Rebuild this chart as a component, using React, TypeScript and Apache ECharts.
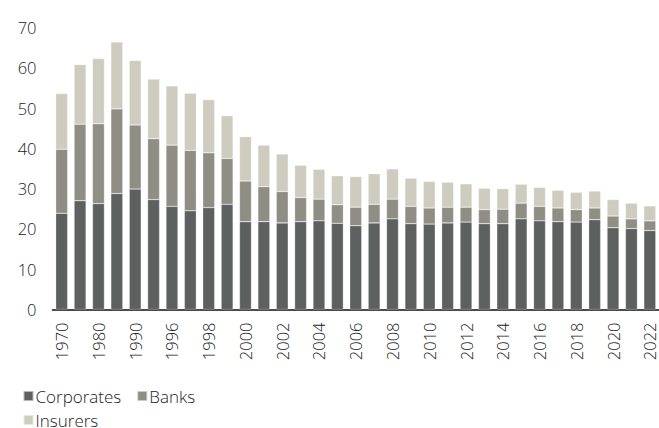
import React, { useEffect, useRef } from "react";
import * as echarts from "echarts";

const years = [
  "1970", "1975", "1980", "1985", "1990", "1995", "1996", "1997", "1998", "1999",
  "2000", "2001", "2002", "2003", "2004", "2005", "2006", "2007", "2008", "2009",
  "2010", "2011", "2012", "2013", "2014", "2015", "2016", "2017", "2018", "2019",
  "2020", "2021", "2022",
];

const corporates = [
  23.9, 27.0, 26.3, 28.8, 29.9, 27.3, 25.6, 24.5, 25.3, 26.1,
  21.8, 21.8, 21.5, 21.8, 22.0, 21.4, 20.8, 21.5, 22.5, 21.3,
  21.2, 21.5, 21.7, 21.3, 21.3, 22.5, 22.0, 21.8, 21.7, 22.3,
  20.3, 20.1, 19.6,
];

const banks = [
  15.9, 19.0, 19.8, 21.0, 15.9, 15.1, 15.2, 15.0, 13.6, 11.4,
  10.1, 8.7, 7.8, 6.0, 5.4, 4.6, 4.6, 4.6, 4.9, 4.3,
  4.0, 3.9, 3.7, 3.5, 3.6, 3.9, 3.6, 3.4, 3.1, 2.9,
  2.9, 2.4, 2.4,
];

const insurers = [
  13.8, 14.8, 16.2, 16.6, 16.0, 14.8, 14.7, 14.2, 13.2, 10.6,
  11.0, 10.3, 9.3, 8.0, 7.4, 7.2, 7.6, 7.6, 7.5, 7.0,
  6.6, 6.2, 5.8, 5.3, 5.1, 4.7, 4.7, 4.4, 4.3, 4.2,
  4.1, 3.9, 3.7,
];

const yTicks = { min: 0, max: 70, interval: 10 };

const FONT = "'Open Sans', 'Noto Sans', sans-serif";
const COLORS = { Corporates: "#5e5f5f", Banks: "#8e8e84", Insurers: "#cdccbe" };

export default function App() {
  const ref = useRef<HTMLDivElement>(null);

  useEffect(() => {
    document.body.style.margin = "0";
    if (!ref.current) return;
    const chart = echarts.init(ref.current, undefined, { renderer: "svg" });
    const mk = (name: string, data: number[]) => ({
      name,
      type: "bar",
      stack: "total",
      data,
      barCategoryGap: "35%",
      itemStyle: {
        color: (COLORS as any)[name],
        borderColor: "rgba(255,255,255,0.55)",
        borderWidth: 0.5,
      },
    });
    const legendText = {
      fontFamily: FONT,
      fontSize: 17,
      fontWeight: 300,
      color: "#222",
      lineHeight: 15,
      padding: [0, 0, 0, -3],
    };
    chart.setOption({
      animation: false,
      textStyle: { fontFamily: FONT },
      grid: { left: 52.5, top: 27.5, width: 608, height: 282 },
      legend: [
        {
          data: ["Corporates", "Banks"],
          left: 22.5,
          top: 387.5,
          padding: 0,
          itemWidth: 10,
          itemHeight: 10,
          itemGap: 15,
          icon: "rect",
          textStyle: legendText,
        },
        {
          data: ["Insurers"],
          left: 22.5,
          top: 411.5,
          padding: 0,
          itemWidth: 10,
          itemHeight: 10,
          icon: "rect",
          textStyle: legendText,
        },
      ],
      xAxis: {
        type: "category",
        data: years,
        axisTick: { show: false },
        axisLine: { lineStyle: { color: "#111", width: 1.5 } },
        axisLabel: {
          interval: 1,
          rotate: 90,
          margin: 13,
          fontSize: 16.5,
          lineHeight: 14,
          fontWeight: 300,
          color: "#222",
          fontFamily: FONT,
        },
      },
      yAxis: {
        type: "value",
        min: yTicks.min,
        max: yTicks.max,
        interval: yTicks.interval,
        axisLine: { show: false },
        axisTick: { show: false },
        splitLine: { show: false },
        axisLabel: { fontSize: 16.5, fontWeight: 300, color: "#222", margin: 16, fontFamily: FONT },
      },
      series: [mk("Corporates", corporates), mk("Banks", banks), mk("Insurers", insurers)],
    });
    return () => chart.dispose();
  }, []);

  return <div ref={ref} style={{ width: 659, height: 428 }} />;
}
